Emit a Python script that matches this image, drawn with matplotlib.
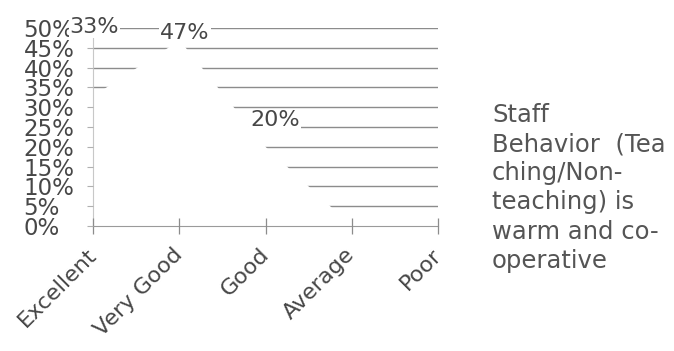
import matplotlib
matplotlib.use('Agg')
import matplotlib.pyplot as plt
import matplotlib.ticker as ticker

plt.rcParams['font.family'] = ['DejaVu Sans']

# Data
categories = ['Excellent', 'Very Good', 'Good', 'Average', 'Poor']
values = [33, 47, 20, 0, 0]
series_name = 'Staff\nBehavior  (Tea\nching/Non-\nteaching) is\nwarm and co-\noperative'
y_ticks = [0, 5, 10, 15, 20, 25, 30, 35, 40, 45, 50]

# label offsets in points (dx, dy)
label_offsets = [(1, 49), (4, 5), (7, 19)]

TEXT = '#474747'
GRID = '#8c8c8c'

fig = plt.figure(figsize=(6.74, 3.51), dpi=100)
ax = fig.add_axes([93 / 674, 1 - 226 / 351, (438 - 93) / 674, (226 - 28) / 351])

x = list(range(len(categories)))

# gridlines behind the white area
for yv in y_ticks[1:]:
    ax.axhline(yv, color=GRID, linewidth=1.0, zorder=1)
ax.fill_between(x, values, 0, color='white', zorder=2, linewidth=0)
ax.set_axisbelow(False)

ax.set_xlim(0, len(categories) - 1)
ax.set_ylim(0, 50)
ax.set_yticks(y_ticks)
ax.yaxis.set_major_formatter(ticker.FuncFormatter(lambda v, _: f'{v:.0f}%'))
ax.set_xticks(x)
ax.set_xticklabels(categories, rotation=45, ha='right', va='center',
                   rotation_mode='anchor', fontsize=16, color=TEXT)

ax.tick_params(axis='y', length=4, width=0.8, color='#b0b0b0', pad=46,
               labelsize=16.5, labelcolor=TEXT)
for lbl in ax.get_yticklabels():
    lbl.set_horizontalalignment('left')
ax.tick_params(axis='x', direction='inout', length=11, width=0.9,
               color='#8c8c8c', pad=13)

for side in ['top', 'right']:
    ax.spines[side].set_visible(False)
ax.spines['left'].set_color('#c8c8c8')
ax.spines['bottom'].set_color('#9a9a9a')

shown = [(i, v) for i, v in enumerate(values) if v > 0]
for (i, v), (dx, dy) in zip(shown, label_offsets):
    ax.annotate(f'{v}%', (i, v), xytext=(dx, dy), textcoords='offset points',
                ha='center', va='center', fontsize=16, color=TEXT, zorder=4,
                bbox=dict(boxstyle='square,pad=0.05', fc='white', ec='none'),
                annotation_clip=False)

fig.text(492 / 674, 1 - 103 / 351, series_name, ha='left', va='top',
         fontsize=17.5, color='#555555', linespacing=1.27)

fig.savefig('out.png', dpi=100)
